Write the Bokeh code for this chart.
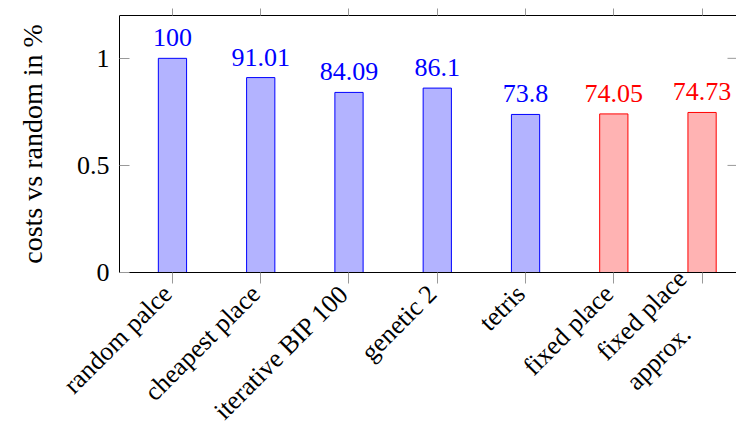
from bokeh.plotting import figure
from bokeh.models import (Range1d, FixedTicker, LinearAxis, ColumnDataSource,
                          LabelSet, Label)
from bokeh.embed import file_html
from bokeh.resources import INLINE
import math

categories = ["random palce", "cheapest place", "iterative BIP 100", "genetic 2",
              "tetris", "fixed place", "fixed place\napprox.\u00a0\u00a0\u00a0"]
ratios = [1.0, 0.9101, 0.8409, 0.861, 0.738, 0.7405, 0.7473]
value_labels = ["100", "91.01", "84.09", "86.1", "73.8", "74.05", "74.73"]
groups = ["base", "base", "base", "base", "base", "fixed", "fixed"]
y_ticks = [0, 0.5, 1]
y_tick_labels = ["0", "0.5", "1"]
y_label = "costs vs random in %"

FONT = "Liberation Serif"
fill_map = {"base": "#b3b3ff", "fixed": "#ffb3b3"}
line_map = {"base": "#0000ff", "fixed": "#ff0000"}
tick_color = "#999999"

# layout (pixels)
W, H = 736, 427
LEFT = 119          # left edge of the axes box
TOP = 15            # top edge of the axes box
AX_BOTTOM = 272     # bottom edge of the axes box (value 0)

xs = list(range(len(categories)))
x0, x1 = -0.6, 6.39          # visible part of the category axis box
y0, y1 = 0.0, 1.2            # value axis
kx = (W - LEFT) / (x1 - x0)
ky = (AX_BOTTOM - TOP) / (y1 - y0)
xr = Range1d(x0 - LEFT / kx, x1)
yr = Range1d(y0 - (H - AX_BOTTOM) / ky, y1)

src = ColumnDataSource(dict(
    x=xs, top=ratios, lab=value_labels, cat=categories,
    base=[y0] * len(xs),
    fill=[fill_map[g] for g in groups],
    line=[line_map[g] for g in groups],
))

p = figure(width=W, height=H, output_backend="svg", toolbar_location=None,
           x_range=xr, y_range=yr,
           min_border_left=0, min_border_right=0, min_border_top=TOP,
           min_border_bottom=0)
p.outline_line_color = None
p.background_fill_color = "white"
p.border_fill_color = "white"
p.xgrid.visible = False
p.ygrid.visible = False

p.vbar(x="x", top="top", width=0.32, bottom=y0, source=src,
       fill_color="fill", line_color="line", line_width=1)

# value labels above the bars
p.add_layout(LabelSet(x="x", y="top", text="lab", source=src, text_color="line",
                      text_font=FONT, text_font_size="26px", text_align="center",
                      text_baseline="alphabetic", y_offset=12))

# rotated category labels under the axis
p.add_layout(LabelSet(x="x", y="base", text="cat", source=src, text_color="black",
                      text_font=FONT, text_font_size="26px", text_align="right",
                      text_baseline="middle", angle=math.pi / 4,
                      text_line_height=1.45, x_offset=-5, y_offset=-17))

# right-side inner ticks
p.ray(x=x1, y=y_ticks, length=9, length_units="screen", angle=math.pi,
      line_color=tick_color, line_width=1)

# bottom axis at value 0 (ticks only)
xa = p.xaxis[0]
xa.fixed_location = y0
xa.bounds = (x0, x1)
xa.ticker = FixedTicker(ticks=xs)
xa.major_label_text_color = None
xa.major_label_text_font_size = "1px"
xa.major_label_standoff = 0
xa.major_tick_out = 11
xa.major_tick_in = 0
xa.major_tick_line_color = tick_color
xa.minor_tick_line_color = None
xa.axis_line_color = "black"

# left axis at the box edge
ya = p.yaxis[0]
ya.fixed_location = x0
ya.bounds = (y0, y1)
ya.ticker = FixedTicker(ticks=y_ticks)
ya.major_label_overrides = {t: l for t, l in zip(y_ticks, y_tick_labels)}
ya.major_label_text_font = FONT
ya.major_label_text_font_size = "26px"
ya.major_label_text_color = "black"
ya.major_label_standoff = 10
ya.major_tick_out = 0
ya.major_tick_in = 10
ya.major_tick_line_color = tick_color
ya.minor_tick_line_color = None
ya.axis_line_color = "black"

# y axis title
p.add_layout(Label(x=x0, y=(y0 + y1) / 2, text=y_label, angle=math.pi / 2,
                   text_font=FONT, text_font_size="28px", text_color="black",
                   text_align="center", text_baseline="middle", x_offset=-87))

# top axis (ticks only)
ta = LinearAxis(ticker=FixedTicker(ticks=xs), bounds=(x0, x1),
                major_tick_out=7, major_tick_in=0,
                major_label_text_font_size="1px", major_label_text_color=None,
                major_label_standoff=0,
                major_tick_line_color=tick_color, minor_tick_line_color=None,
                axis_line_color="black")
p.add_layout(ta, "above")

open("out.html", "w").write(file_html(p, INLINE))
